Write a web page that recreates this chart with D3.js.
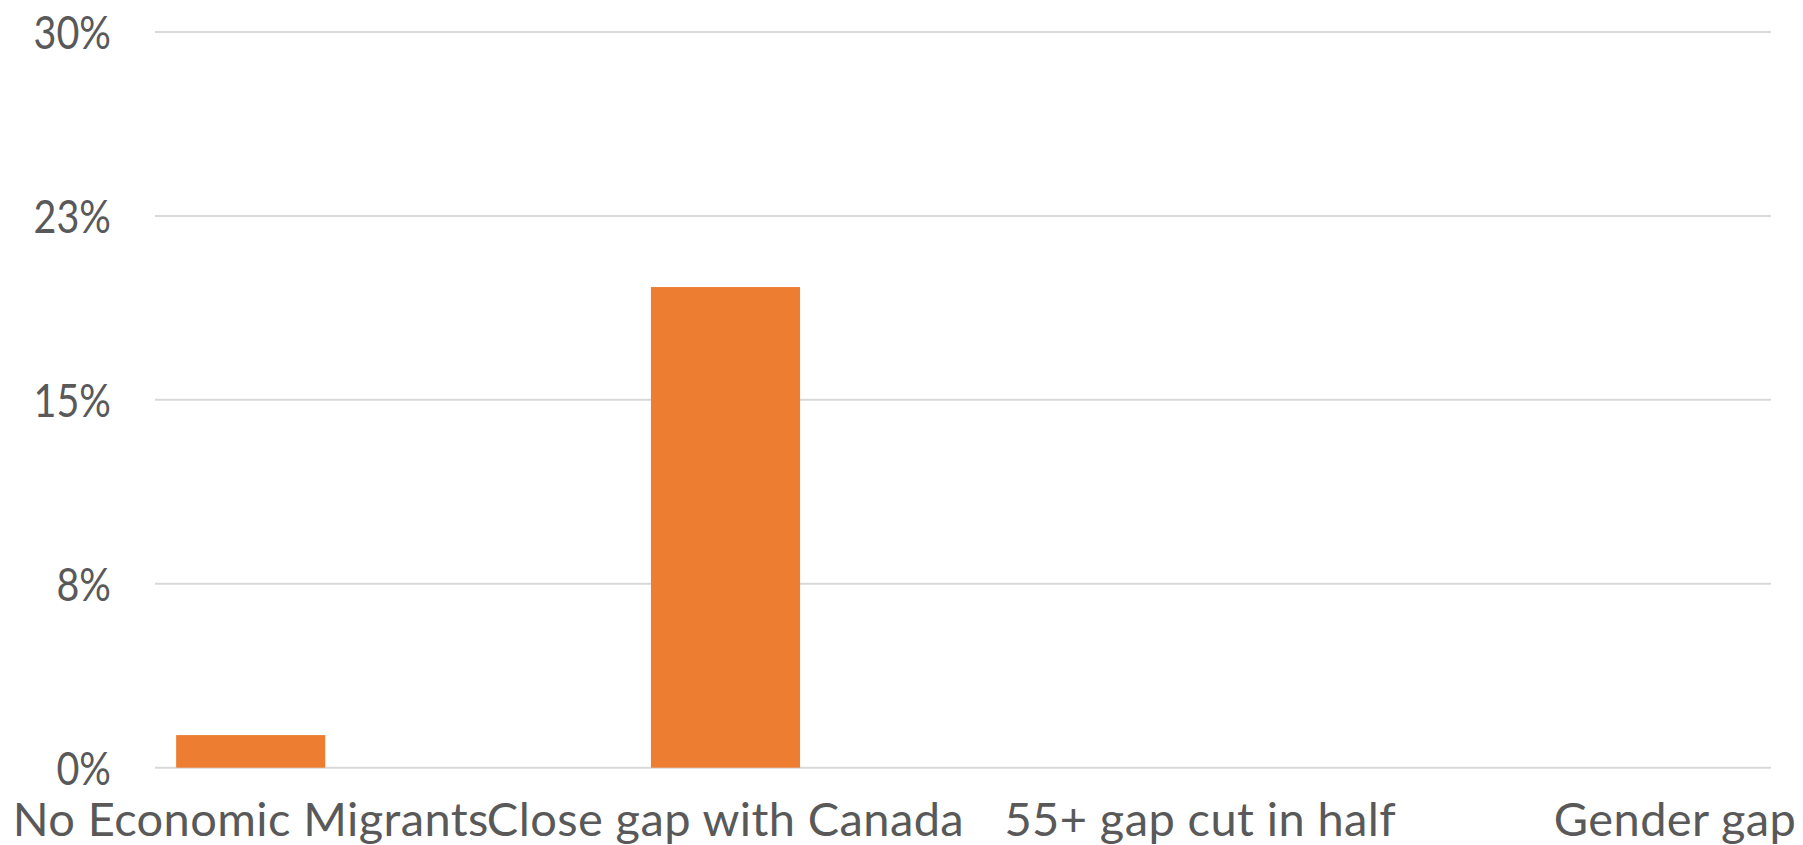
<!DOCTYPE html>
<html>
<head>
<meta charset="utf-8">
<script src="https://cdn.jsdelivr.net/npm/d3@7"></script>
<style>
  html, body { margin: 0; padding: 0; background: #ffffff; }
  svg { display: block; }
  .lbl text { font-family: Lato, "Open Sans", sans-serif; font-size: 47px; fill: #595959; }
  .xlbl text { letter-spacing: 0.4px; }
</style>
</head>
<body>
<svg id="chart" width="1803" height="845"></svg>
<script>
// Categories and bar values (share of total)
const categories = ["No Economic Migrants", "Close gap with Canada", "55+ gap cut in half", "Gender gap"];
const values = [0.0133, 0.196, 0, 0];

// Value-axis ticks and the labels shown for them
const tickValues = [0, 0.075, 0.15, 0.225, 0.30];
const tickLabels = ["0%", "8%", "15%", "23%", "30%"];

const svg = d3.select("#chart");

const plot = { left: 155, right: 1771, top: 32, bottom: 767.7 };

const y = d3.scaleLinear().domain([0, 0.30]).range([plot.bottom, plot.top]);

const x = d3.scaleBand()
  .domain(categories)
  .range([13.3, 1912.5])
  .paddingInner(0.686)
  .paddingOuter(0.343);

// Horizontal gridlines
svg.append("g")
  .selectAll("line")
  .data(tickValues)
  .join("line")
  .attr("x1", plot.left)
  .attr("x2", plot.right)
  .attr("y1", d => y(d))
  .attr("y2", d => y(d))
  .attr("stroke", "#d9d9d9")
  .attr("stroke-width", 2);

// Bars
svg.append("g")
  .selectAll("rect")
  .data(categories.map((c, i) => ({ c, v: values[i] })).filter(d => d.v > 0))
  .join("rect")
  .attr("x", d => x(d.c))
  .attr("width", x.bandwidth())
  .attr("y", d => y(d.v))
  .attr("height", d => y(0) - y(d.v))
  .attr("fill", "#ED7D31");

// Value axis labels
const yAxis = d3.axisLeft(y)
  .tickValues(tickValues)
  .tickFormat((d, i) => tickLabels[i])
  .tickSize(0)
  .tickPadding(44);

const gy = svg.append("g")
  .attr("class", "lbl")
  .attr("transform", `translate(${plot.left},0)`)
  .call(yAxis);
gy.select(".domain").remove();

// Category axis labels
const xAxis = d3.axisBottom(x)
  .tickSize(0)
  .tickPadding(35);

const gx = svg.append("g")
  .attr("class", "lbl xlbl")
  .attr("transform", `translate(0,${plot.bottom})`)
  .call(xAxis);
gx.select(".domain").remove();

// Drop the default font attributes so the stylesheet applies
gy.attr("font-family", null).attr("font-size", null);
gx.attr("font-family", null).attr("font-size", null);

// Narrower figures on the value axis
gy.selectAll("text")
  .attr("dy", "0.36em")
  .each(function () {
    const w = this.getComputedTextLength();
    d3.select(this)
      .attr("textLength", w * 0.84)
      .attr("lengthAdjust", "spacingAndGlyphs");
  });
</script>
</body>
</html>
